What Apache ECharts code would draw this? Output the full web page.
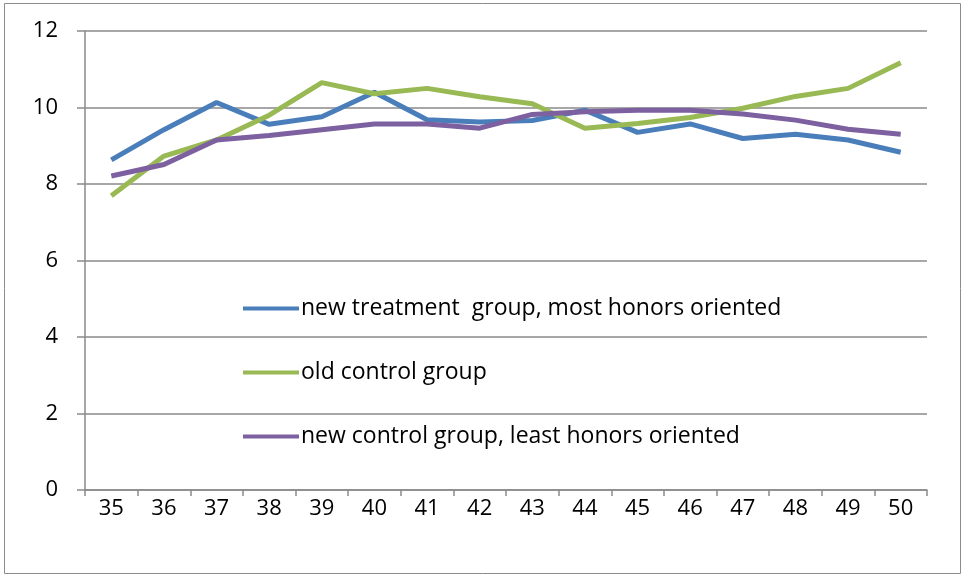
<!DOCTYPE html>
<html>
<head>
<meta charset="utf-8">
<script src="https://cdn.jsdelivr.net/npm/echarts@6/dist/echarts.min.js"></script>
<style>
  html, body { margin: 0; padding: 0; background: #fff; }
  #chart { width: 965px; height: 578px; }
</style>
</head>
<body>
<div id="chart"></div>
<script>
// categories on the x axis
const ages = ['35', '36', '37', '38', '39', '40', '41', '42', '43', '44', '45', '46', '47', '48', '49', '50'];

// series values
const newTreatment = [8.63, 9.42, 10.13, 9.56, 9.76, 10.4, 9.68, 9.62, 9.66, 9.93, 9.35, 9.57, 9.19, 9.3, 9.15, 8.83];
const oldControl = [7.69, 8.73, 9.15, 9.8, 10.65, 10.36, 10.5, 10.28, 10.1, 9.46, 9.58, 9.74, 9.98, 10.29, 10.5, 11.17];
const newControl = [8.21, 8.51, 9.15, 9.27, 9.42, 9.57, 9.57, 9.46, 9.82, 9.89, 9.93, 9.93, 9.83, 9.67, 9.43, 9.3];

const seriesNames = [
  'new treatment  group, most honors oriented',
  'old control group',
  'new control group, least honors oriented'
];
const colors = ['#4A7EBB', '#98B954', '#7D60A0'];

const fontFam = '"Open Sans", sans-serif';
const gridGray = '#8a8a8a';

const chart = echarts.init(document.getElementById('chart'));

const option = {
  backgroundColor: '#fff',
  animation: false,
  color: colors,
  // thin frame round the whole chart
  graphic: [{
    type: 'rect',
    shape: { x: 4.5, y: 3.5, width: 956, height: 570 },
    style: { fill: 'none', stroke: '#8c8c8c', lineWidth: 1 },
    silent: true
  }],
  grid: { left: 85, right: 38, top: 31, bottom: 88 },
  legend: {
    orient: 'vertical',
    left: 238,
    top: 292,
    itemWidth: 56,
    itemHeight: 4,
    itemGap: 41,
    icon: 'rect',
    textStyle: { fontFamily: fontFam, fontSize: 23, color: '#000', lineHeight: 23, padding: [0, 0, 0, -3] },
    data: seriesNames
  },
  xAxis: {
    type: 'category',
    data: ages,
    boundaryGap: true,
    axisLine: { lineStyle: { color: gridGray, width: 1.5 } },
    axisTick: { show: true, length: 6, interval: 0, lineStyle: { color: gridGray, width: 1.5 } },
    axisLabel: { color: '#000', fontFamily: fontFam, fontSize: 22, margin: 8 }
  },
  yAxis: {
    type: 'value',
    min: 0,
    max: 12,
    interval: 2,
    axisLine: { show: true, lineStyle: { color: gridGray, width: 1.5 } },
    axisTick: { show: true, length: 8, lineStyle: { color: gridGray, width: 1.5 } },
    axisLabel: { color: '#000', fontFamily: fontFam, fontSize: 22, margin: 27 },
    splitLine: { show: true, lineStyle: { color: gridGray, width: 1.5 } }
  },
  series: [
    { name: seriesNames[0], type: 'line', data: newTreatment, symbol: 'none', lineStyle: { width: 5 } },
    { name: seriesNames[1], type: 'line', data: oldControl, symbol: 'none', lineStyle: { width: 5 } },
    { name: seriesNames[2], type: 'line', data: newControl, symbol: 'none', lineStyle: { width: 5 } }
  ]
};

chart.setOption(option);
</script>
</body>
</html>
